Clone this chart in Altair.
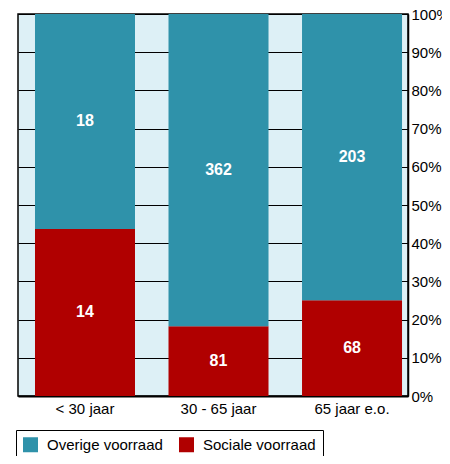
import altair as alt
import pandas as pd

categories = ["< 30 jaar", "30 - 65 jaar", "65 jaar e.o."]
sociale = [14, 81, 68]
overige = [18, 362, 203]
series = ["Overige voorraad", "Sociale voorraad"]
colors = ["#2f92aa", "#b00000"]
y_ticks = [i / 10 for i in range(11)]

rows = []
for c, s, o in zip(categories, sociale, overige):
    rows.append({"cat": c, "serie": "Sociale voorraad", "v": s, "ord": 0})
    rows.append({"cat": c, "serie": "Overige voorraad", "v": o, "ord": 1})
df = pd.DataFrame(rows)

FONT = "Liberation Sans"

base = alt.Chart(df).transform_stack(
    stack="v", groupby=["cat"], as_=["y0", "y1"], offset="normalize",
    sort=[alt.SortField("ord", order="ascending")]
).transform_calculate(mid="(datum.y0 + datum.y1) / 2")

yaxis = alt.Axis(orient="right", format="%", values=y_ticks, title=None,
                 grid=True, gridColor="black", gridWidth=1, ticks=False,
                 domainColor="black", domainWidth=1.5, labelFontSize=15,
                 labelColor="black", labelPadding=3, labelFont=FONT,
                 labelOverlap=False, labelBound=False)

xenc = alt.X("cat:N", sort=categories,
             scale=alt.Scale(paddingInner=0.251, paddingOuter=0.086, align=0.74),
             axis=alt.Axis(title=None, labelAngle=0, ticks=False, domainColor="black",
                           domainWidth=2, labelFontSize=15, labelColor="black",
                           labelPadding=5, labelFont=FONT))

bars = base.mark_bar().encode(
    x=xenc,
    y=alt.Y("y0:Q", scale=alt.Scale(domain=[0, 1]), axis=yaxis),
    y2="y1:Q",
    color=alt.Color("serie:N", scale=alt.Scale(domain=series, range=colors),
                    legend=alt.Legend(title=None, orient="none", legendX=-2, legendY=416,
                                      direction="horizontal", columns=2,
                                      symbolType="square", symbolSize=225,
                                      symbolStrokeWidth=0, labelFontSize=15,
                                      labelFont=FONT, labelColor="black",
                                      labelOffset=9, columnPadding=16, padding=7,
                                      strokeColor="black", fillColor="white")),
)

labels = base.mark_text(color="white", fontWeight="bold", fontSize=16, font=FONT).encode(
    x=alt.X("cat:N", sort=categories),
    y=alt.Y("mid:Q", scale=alt.Scale(domain=[0, 1]), axis=yaxis),
    text="v:Q",
)

chart = alt.layer(bars, labels).properties(
    width=390, height=382,
    autosize=alt.AutoSizeParams(type="none"),
    padding={"left": 10, "top": 6, "right": 34, "bottom": 60},
).configure_view(fill="#ddf0f6", stroke="black", strokeWidth=1.5)

chart.save("out.html", embed_options={"renderer": "svg", "actions": False})
